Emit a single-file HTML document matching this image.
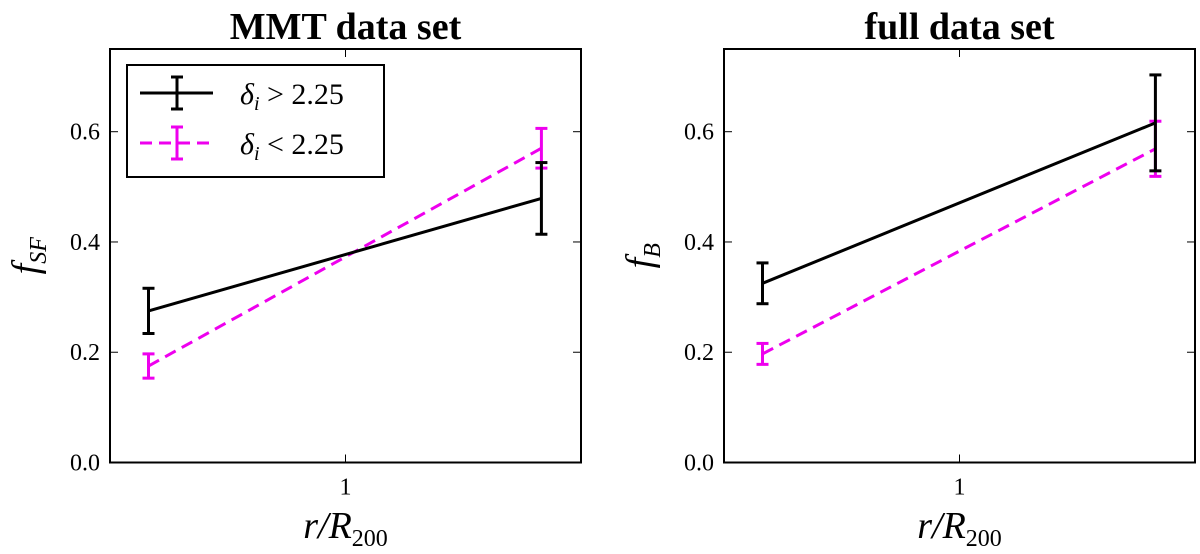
<!DOCTYPE html>
<html><head><meta charset="utf-8"><style>body{margin:0;background:#fff}svg{display:block}text{font-family:"Liberation Serif",serif}</style></head>
<body>
<svg id="c" width="1200" height="554" viewBox="0 0 1200 554"></svg>
<script>
const xPos=[0.56,1.78];
const yTicks=[0,0.2,0.4,0.6];
const yTickLabels=["0.0","0.2","0.4","0.6"];
const leftHighVals=[0.275,0.479];
const leftHighErr=[0.041,0.065];
const leftLowVals=[0.175,0.57];
const leftLowErr=[0.022,0.036];
const rightHighVals=[0.325,0.616];
const rightHighErr=[0.037,0.087];
const rightLowVals=[0.197,0.569];
const rightLowErr=[0.019,0.05];
const svg=document.getElementById('c');
const NS='http://www.w3.org/2000/svg';
function mk(t,a,p){const e=document.createElementNS(NS,t);for(const k in a)e.setAttribute(k,a[k]);(p||svg).appendChild(e);return e;}
function panel(x0,name,title,sub,hi,hiE,lo,loE,legend){
  const W=471,top=49,bot=462.5;
  const g=mk('g',{});
  
  
  const sx=v=>x0+(Math.log(v)-Math.log(0.5))/(Math.log(2)-Math.log(0.5))*W;
  const sy=v=>bot-v/0.75*(bot-top);
  const t=mk('text',{x:x0+W/2,y:39,'text-anchor':'middle','font-size':38,'font-weight':'bold'},g);t.textContent=title;
  
  yTicks.forEach((v,i)=>{const y=sy(v);
    mk('line',{x1:x0,x2:x0+8,y1:y,y2:y,stroke:'#000','stroke-width':1},g);
    mk('line',{x1:x0+W-8,x2:x0+W,y1:y,y2:y,stroke:'#000','stroke-width':1},g);
    const l=mk('text',{x:x0-10,y:y+8,'text-anchor':'end','font-size':24,'font-family':'Liberation Sans, sans-serif'},g);l.textContent=yTickLabels[i];
    });
  const x1=sx(1);
  mk('line',{x1:x1,x2:x1,y1:top,y2:top+8,stroke:'#000'},g);
  mk('line',{x1:x1,x2:x1,y1:bot-8,y2:bot,stroke:'#000'},g);
  const xl=mk('text',{x:x1,y:bot+32,'text-anchor':'middle','font-size':24,'font-family':'Liberation Sans, sans-serif'},g);xl.textContent='1';
  
  function series(v,e,col,dash,nm){
    const pl=mk('polyline',{points:xPos.map((x,i)=>sx(x)+','+sy(v[i])).join(' '),fill:'none',stroke:col,'stroke-width':3,'stroke-dasharray':dash},g);
    
    xPos.forEach((x,i)=>{const X=sx(x),a=sy(v[i]-e[i]),b=sy(v[i]+e[i]);
      const eg=mk('g',{stroke:col,'stroke-width':3},g);
      
      mk('line',{x1:X,x2:X,y1:a,y2:b},eg);mk('line',{x1:X-6,x2:X+6,y1:a,y2:a},eg);mk('line',{x1:X-6,x2:X+6,y1:b,y2:b},eg);});
  }
  series(lo,loE,'#ee00ee','12,7','low-density');
  series(hi,hiE,'#000','none','high-density');
  const fr=mk('rect',{x:x0,y:top,width:W,height:bot-top,fill:'none',stroke:'#000','stroke-width':2},g);
  
  const yl=mk('text',{x:0,y:0,'text-anchor':'middle','font-size':38,'font-style':'italic',transform:`translate(${x0-72},${(top+bot)/2}) rotate(-90)`},g);
  yl.innerHTML='f<tspan font-size="24" dy="8">'+sub+'</tspan>';
  
  const xt=mk('text',{x:x1,y:538,'text-anchor':'middle','font-size':38,'font-style':'italic'},g);
  xt.innerHTML='r/R<tspan font-size="24" dy="8" font-style="normal">200</tspan>';
  
  if(legend){
    const lg=mk('g',{},g);
    mk('rect',{x:127,y:65,width:257,height:112,fill:'#fff',stroke:'#000','stroke-width':2},lg);
    [[93,'#000','none','&gt;'],[143,'#ee00ee','12,7','&lt;']].forEach(([y,c,d,s])=>{
      const e=mk('g',{},lg);
      mk('line',{x1:140,x2:213,y1:y,y2:y,stroke:c,'stroke-width':3,'stroke-dasharray':d},e);
      mk('line',{x1:177,x2:177,y1:y-16,y2:y+16,stroke:c,'stroke-width':3},e);
      mk('line',{x1:171,x2:183,y1:y-16,y2:y-16,stroke:c,'stroke-width':3},e);
      mk('line',{x1:171,x2:183,y1:y+16,y2:y+16,stroke:c,'stroke-width':3},e);
      const tx=mk('text',{x:240,y:y+11,'font-size':30},e);
      tx.innerHTML='<tspan font-style="italic">δ</tspan><tspan font-size="20" dy="6" font-style="italic">i</tspan><tspan dy="-6"> '+s+' 2.25</tspan>';});
  }
}
panel(110,'left-panel','MMT data set','SF',leftHighVals,leftHighErr,leftLowVals,leftLowErr,true);
panel(724,'right-panel','full data set','B',rightHighVals,rightHighErr,rightLowVals,rightLowErr,false);
</script>
</body></html>
